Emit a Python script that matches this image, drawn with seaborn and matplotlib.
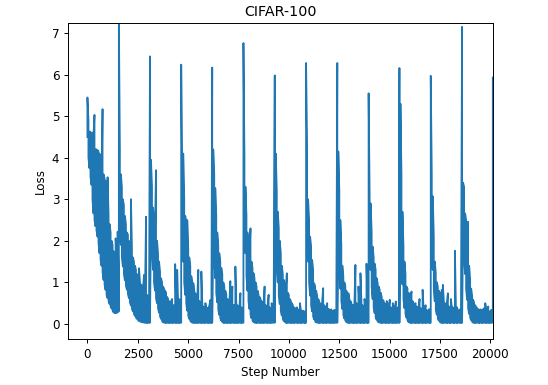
import numpy as np
import pandas as pd
import matplotlib
matplotlib.use("Agg")
import matplotlib.pyplot as plt
import seaborn as sns

# ---- data (loss band per ~50-step column) ----
title = "CIFAR-100"
x_label = "Step Number"
y_label = "Loss"
x_ticks = [0, 2500, 5000, 7500, 10000, 12500, 15000, 17500, 20000]
y_ticks = [0, 1, 2, 3, 4, 5, 6, 7]
column_step = 50

epoch_start_steps = [0, 1560, 3105, 4655, 6195, 7745, 9300, 10855, 12405,
                     13960, 15490, 17045, 18600, 20125]

loss_upper_e0 = [5.45, 4.9, 4.63, 4.62, 4.6, 4.6, 4.55, 5.03, 4.2, 4.2, 4.18, 4.15, 4.1, 3.9, 3.3, 5.17,
                 3.6, 3.5, 3.45, 3.1, 3.53, 2.6, 2.4, 2.2, 2.0, 1.9, 1.75, 1.6, 2.06, 1.5, 2.22, 1.05]
loss_lower_e0 = [4.5, 4.0, 3.75, 3.55, 3.35, 3.0, 2.66, 2.5, 2.35, 2.25, 2.1, 1.95, 1.7, 1.55, 1.4, 1.25,
                 1.06, 0.95, 0.82, 0.7, 0.62, 0.55, 0.48, 0.42, 0.37, 0.32, 0.28, 0.26, 0.26, 0.27, 0.28, 0.3]

loss_upper_e1 = [7.4, 4.2, 3.6, 3.3, 3.0, 2.85, 2.6, 2.4, 2.2, 2.15, 2.0, 1.9, 3.0, 1.8, 1.6, 1.5,
                 1.4, 1.3, 1.2, 1.15, 1.34, 1.0, 0.95, 0.9, 0.85, 1.18, 0.8, 2.58, 0.7, 0.65, 0.6]
loss_lower_e1 = [0.3, 2.3, 1.9, 1.6, 1.38, 1.2, 1.05, 0.92, 0.82, 0.72, 0.62, 0.52, 0.44, 0.36, 0.3, 0.24,
                 0.19, 0.15, 0.12, 0.09, 0.07, 0.06, 0.05, 0.04, 0.04, 0.03, 0.03, 0.03, 0.02, 0.03, 0.03]

loss_upper_e2 = [6.44, 3.95, 3.3, 2.8, 2.5, 2.3, 3.7, 2.0, 1.7, 1.5, 1.25, 1.1, 1.0, 0.9, 0.85, 0.8,
                 0.75, 0.65, 0.6, 0.55, 0.5, 0.55, 0.6, 0.45, 0.45, 1.44, 0.5, 1.3, 0.4, 0.6, 0.5]
loss_lower_e2 = [0.03, 2.4, 1.8, 1.3, 1.0, 0.8, 0.62, 0.5, 0.38, 0.27, 0.18, 0.12, 0.07, 0.04, 0.03, 0.03,
                 0.02, 0.03, 0.03, 0.02, 0.03, 0.03, 0.02, 0.03, 0.03, 0.03, 0.02, 0.03, 0.03, 0.02, 0.03]

loss_upper_e3 = [6.24, 3.5, 4.1, 3.0, 2.6, 2.45, 2.5, 1.8, 1.6, 1.4, 1.15, 1.0, 0.98, 0.8, 0.74, 0.65,
                 0.6, 1.3, 0.55, 0.5, 1.26, 0.45, 0.42, 0.4, 0.5, 0.38, 0.35, 0.4, 0.45, 0.58, 0.4]
loss_lower_e3 = [0.03, 2.2, 1.5, 1.0, 0.7, 0.5, 0.32, 0.2, 0.12, 0.07, 0.05, 0.03, 0.03, 0.02, 0.03, 0.03,
                 0.02, 0.03, 0.03, 0.03, 0.02, 0.03, 0.03, 0.02, 0.03, 0.03, 0.03, 0.02, 0.03, 0.03, 0.02]

loss_upper_e4 = [6.17, 4.2, 3.6, 3.27, 2.6, 2.2, 1.9, 1.7, 1.5, 1.35, 1.2, 1.0, 0.9, 0.8, 0.7, 0.6,
                 0.55, 0.5, 1.03, 0.5, 0.9, 0.45, 0.45, 1.38, 0.4, 0.45, 0.35, 0.4, 0.74, 0.4, 0.35]
loss_lower_e4 = [0.03, 2.3, 1.6, 1.1, 0.75, 0.52, 0.35, 0.22, 0.14, 0.08, 0.05, 0.03, 0.02, 0.03, 0.03, 0.02,
                 0.03, 0.03, 0.02, 0.03, 0.03, 0.03, 0.02, 0.03, 0.03, 0.02, 0.03, 0.03, 0.03, 0.02, 0.03]

loss_upper_e5 = [6.76, 4.0, 3.3, 2.6, 2.2, 1.86, 1.7, 2.3, 1.5, 1.35, 1.22, 1.1, 1.0, 0.9, 0.8, 0.7,
                 0.65, 0.6, 0.55, 0.5, 0.45, 0.9, 0.45, 0.4, 0.45, 0.7, 0.4, 0.35, 0.5, 0.35, 0.4]
loss_lower_e5 = [0.03, 2.4, 1.7, 1.15, 0.8, 0.55, 0.36, 0.23, 0.14, 0.08, 0.05, 0.03, 0.03, 0.02, 0.03, 0.03,
                 0.03, 0.02, 0.03, 0.03, 0.02, 0.03, 0.03, 0.03, 0.02, 0.03, 0.03, 0.02, 0.03, 0.03, 0.03]

loss_upper_e6 = [5.98, 4.1, 3.2, 2.7, 2.3, 2.0, 1.7, 1.4, 1.2, 1.06, 0.95, 0.85, 1.22, 0.75, 0.7, 0.6,
                 0.55, 0.5, 0.45, 0.4, 0.38, 0.36, 0.4, 0.35, 0.34, 0.5, 0.33, 0.3, 0.32, 0.3, 0.3]
loss_lower_e6 = [0.03, 2.1, 1.5, 1.0, 0.7, 0.48, 0.32, 0.2, 0.12, 0.07, 0.05, 0.03, 0.02, 0.03, 0.03, 0.03,
                 0.02, 0.03, 0.03, 0.02, 0.03, 0.03, 0.03, 0.02, 0.03, 0.03, 0.02, 0.03, 0.03, 0.03, 0.02]

loss_upper_e7 = [6.28, 4.27, 3.0, 2.5, 2.1, 1.86, 1.54, 1.3, 0.98, 0.9, 0.8, 0.66, 0.6, 0.55, 0.5, 0.45,
                 0.55, 0.86, 0.45, 0.4, 0.38, 0.5, 0.36, 0.35, 0.33, 0.35, 0.32, 0.3, 0.34, 0.3, 0.35]
loss_lower_e7 = [0.03, 2.2, 1.5, 1.0, 0.68, 0.45, 0.3, 0.18, 0.11, 0.06, 0.04, 0.03, 0.03, 0.02, 0.03, 0.03,
                 0.03, 0.02, 0.03, 0.03, 0.02, 0.03, 0.03, 0.03, 0.02, 0.03, 0.03, 0.02, 0.03, 0.03, 0.03]

loss_upper_e8 = [6.28, 4.15, 3.2, 2.5, 1.9, 1.4, 1.14, 1.0, 0.9, 0.8, 0.7, 0.74, 0.6, 0.55, 0.5, 0.45,
                 0.45, 0.5, 1.42, 0.5, 0.45, 0.9, 0.45, 1.22, 0.5, 0.45, 0.4, 0.6, 0.4, 1.45, 0.5]
loss_lower_e8 = [0.03, 2.0, 1.3, 0.85, 0.55, 0.36, 0.22, 0.13, 0.08, 0.05, 0.03, 0.03, 0.02, 0.03, 0.03, 0.03,
                 0.02, 0.03, 0.03, 0.02, 0.03, 0.03, 0.03, 0.02, 0.03, 0.03, 0.02, 0.03, 0.03, 0.03, 0.02]

loss_upper_e9 = [5.55, 3.07, 2.9, 2.2, 1.86, 1.6, 1.45, 1.3, 1.1, 0.98, 0.9, 0.82, 0.75, 0.65, 0.58, 0.55,
                 0.5, 0.45, 0.55, 0.45, 0.4, 0.58, 0.4, 0.38, 0.5, 0.4, 0.35, 0.54, 0.35, 0.4, 0.45]
loss_lower_e9 = [0.03, 1.9, 1.3, 0.9, 0.6, 0.4, 0.26, 0.16, 0.1, 0.06, 0.04, 0.03, 0.03, 0.02, 0.03, 0.03,
                 0.03, 0.02, 0.03, 0.03, 0.02, 0.03, 0.03, 0.03, 0.02, 0.03, 0.03, 0.02, 0.03, 0.03, 0.03]

loss_upper_e10 = [6.16, 5.3, 3.6, 2.7, 1.86, 1.5, 1.2, 0.9, 0.85, 0.75, 0.7, 0.65, 0.78, 0.55, 0.5, 0.45,
                  0.5, 0.42, 0.4, 0.4, 0.6, 0.38, 0.35, 0.82, 0.35, 0.33, 0.45, 0.33, 0.3, 0.35, 0.35]
loss_lower_e10 = [0.03, 2.3, 1.5, 0.95, 0.6, 0.38, 0.24, 0.15, 0.09, 0.05, 0.03, 0.03, 0.02, 0.03, 0.03, 0.03,
                  0.02, 0.03, 0.03, 0.02, 0.03, 0.03, 0.03, 0.02, 0.03, 0.03, 0.02, 0.03, 0.03, 0.03, 0.02]

loss_upper_e11 = [5.97, 3.6, 3.07, 2.1, 1.5, 1.22, 1.0, 0.9, 0.8, 0.74, 0.65, 0.82, 0.94, 0.55, 0.5, 0.45,
                  0.5, 0.74, 0.42, 0.4, 0.6, 0.38, 0.4, 0.35, 1.76, 0.35, 0.4, 0.33, 0.3, 0.35, 0.3]
loss_lower_e11 = [0.03, 2.0, 1.3, 0.85, 0.55, 0.35, 0.22, 0.13, 0.08, 0.05, 0.03, 0.03, 0.02, 0.03, 0.03, 0.03,
                  0.02, 0.03, 0.03, 0.02, 0.03, 0.03, 0.03, 0.02, 0.03, 0.03, 0.02, 0.03, 0.03, 0.03, 0.02]

loss_upper_e12 = [7.15, 3.4, 3.3, 2.66, 2.5, 2.4, 2.46, 1.4, 1.06, 0.85, 0.66, 0.58, 0.5, 0.45, 0.4, 0.38,
                  0.35, 0.33, 0.35, 0.3, 0.35, 0.3, 0.38, 0.5, 0.35, 0.32, 0.42, 0.3, 0.3, 0.34, 0.3]
loss_lower_e12 = [0.03, 2.2, 1.6, 1.2, 0.85, 0.58, 0.38, 0.24, 0.15, 0.09, 0.05, 0.03, 0.03, 0.02, 0.03, 0.03,
                  0.03, 0.02, 0.03, 0.03, 0.02, 0.03, 0.03, 0.03, 0.02, 0.03, 0.03, 0.02, 0.03, 0.03, 0.03]

loss_upper_e13 = [5.93]
loss_lower_e13 = [0.03]

uppers = [loss_upper_e0, loss_upper_e1, loss_upper_e2, loss_upper_e3, loss_upper_e4, loss_upper_e5,
          loss_upper_e6, loss_upper_e7, loss_upper_e8, loss_upper_e9, loss_upper_e10, loss_upper_e11,
          loss_upper_e12, loss_upper_e13]
lowers = [loss_lower_e0, loss_lower_e1, loss_lower_e2, loss_lower_e3, loss_lower_e4, loss_lower_e5,
          loss_lower_e6, loss_lower_e7, loss_lower_e8, loss_lower_e9, loss_lower_e10, loss_lower_e11,
          loss_lower_e12, loss_lower_e13]

# ---- build the oscillating loss trace (vertical strokes per column) ----
steps, losses = [], []
col = 0
for start, hi, lo in zip(epoch_start_steps, uppers, lowers):
    for j, (h, l) in enumerate(zip(hi, lo)):
        s = start + j * column_step
        pair = (l, h) if col % 2 == 0 else (h, l)
        steps.extend([s, s])
        losses.extend(pair)
        col += 1
df = pd.DataFrame({"step": steps, "loss": losses})

# ---- figure ----
fig = plt.figure(figsize=(5.48, 3.85), dpi=100)
ax = fig.add_axes([68.3 / 548, 1 - 339.3 / 385, (493.3 - 68.3) / 548, (339.3 - 22.7) / 385])

sns.lineplot(data=df, x="step", y="loss", sort=False, estimator=None,
             color="#1f77b4", linewidth=1.3, ax=ax)

ax.set_xlim(-950, 20150)
ax.set_ylim(-0.37, 7.25)
ax.set_xticks(x_ticks)
ax.set_yticks(y_ticks)
ax.tick_params(labelsize=8.6, length=3, width=0.7)
for sp in ax.spines.values():
    sp.set_linewidth(0.7)
ax.set_title(title, fontsize=10.3, pad=5.1)
ax.set_xlabel(x_label, fontsize=8.6, labelpad=3.4)
ax.set_ylabel(y_label, fontsize=8.6, labelpad=3.4)

fig.savefig("out.png", dpi=100)
